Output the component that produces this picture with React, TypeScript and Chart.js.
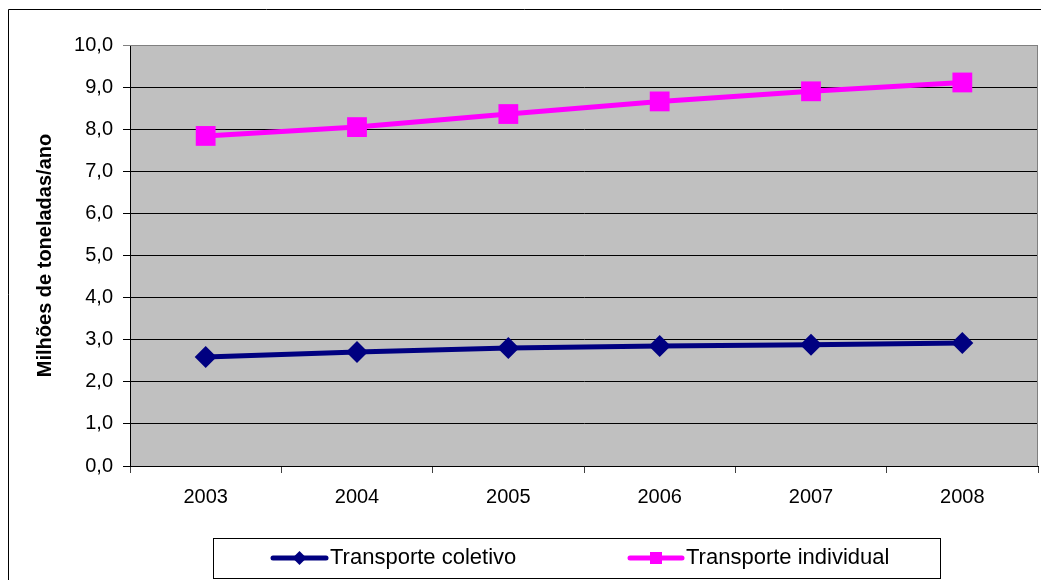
import React, { useEffect, useRef } from "react";
import { Chart, registerables } from "chart.js";

Chart.register(...registerables);

const categories = ["2003", "2004", "2005", "2006", "2007", "2008"];
const coletivo = [2.59, 2.71, 2.8, 2.85, 2.88, 2.92];
const individual = [7.84, 8.05, 8.36, 8.66, 8.9, 9.11];
const seriesNames = ["Transporte coletivo", "Transporte individual"];
const yTitle = "Milhões de toneladas/ano";

const FONT = "'Liberation Sans', Arial, sans-serif";
const NAVY = "#000080";
const PINK = "#FF00FF";

const framePlugin = {
  id: "framePlugin",
  beforeDraw(chart: any) {
    const { ctx, chartArea } = chart;
    ctx.save();
    ctx.fillStyle = "#C0C0C0";
    ctx.fillRect(chartArea.left, chartArea.top, chartArea.right - chartArea.left, chartArea.bottom - chartArea.top);
    ctx.restore();
  },
  beforeDatasetsDraw(chart: any) {
    const { ctx, chartArea } = chart;
    ctx.save();
    ctx.strokeStyle = "#808080";
    ctx.lineWidth = 1;
    ctx.beginPath();
    ctx.moveTo(chartArea.left, chartArea.top + 0.5);
    ctx.lineTo(chartArea.right - 0.5, chartArea.top + 0.5);
    ctx.lineTo(chartArea.right - 0.5, chartArea.bottom);
    ctx.stroke();
    ctx.restore();
  },
  afterDraw(chart: any) {
    const { ctx, width, height } = chart;
    ctx.save();
    // outer frame
    ctx.strokeStyle = "#000";
    ctx.lineWidth = 1;
    ctx.beginPath();
    ctx.moveTo(8.5, height);
    ctx.lineTo(8.5, 9.5);
    ctx.lineTo(width, 9.5);
    ctx.stroke();

    // legend box
    const bx = 213, by = 538, bw = 727, bh = 40;
    ctx.strokeRect(bx + 0.5, by + 0.5, bw, bh);
    const ly = by + 20;
    const items = [
      { x0: 273, x1: 326, color: NAVY, shape: "diamond", tx: 330, label: seriesNames[0] },
      { x0: 630, x1: 682, color: PINK, shape: "square", tx: 686, label: seriesNames[1] },
    ];
    items.forEach((it) => {
      ctx.strokeStyle = it.color;
      ctx.lineWidth = 5;
      ctx.lineCap = "round";
      ctx.beginPath();
      ctx.moveTo(it.x0, ly);
      ctx.lineTo(it.x1, ly);
      ctx.stroke();
      ctx.fillStyle = it.color;
      const cx = (it.x0 + it.x1) / 2;
      ctx.beginPath();
      if (it.shape === "diamond") {
        ctx.moveTo(cx - 7, ly);
        ctx.lineTo(cx, ly - 7);
        ctx.lineTo(cx + 7, ly);
        ctx.lineTo(cx, ly + 7);
        ctx.closePath();
      } else {
        ctx.rect(cx - 6, ly - 6, 12, 12);
      }
      ctx.fill();
      ctx.fillStyle = "#000";
      ctx.font = `22px ${FONT}`;
      ctx.textBaseline = "middle";
      ctx.textAlign = "left";
      ctx.fillText(it.label, it.tx, ly);
    });
    ctx.restore();
  },
};

export default function App() {
  const ref = useRef<HTMLCanvasElement>(null);
  useEffect(() => {
    if (!ref.current) return;
    const chart = new Chart(ref.current, {
      type: "line",
      data: {
        labels: categories,
        datasets: [
          {
            label: seriesNames[0],
            data: coletivo,
            borderColor: NAVY,
            backgroundColor: NAVY,
            borderWidth: 5,
            pointStyle: "rectRot",
            pointRadius: 11,
            pointHoverRadius: 11,
            pointBorderWidth: 0,
            tension: 0,
          },
          {
            label: seriesNames[1],
            data: individual,
            borderColor: PINK,
            backgroundColor: PINK,
            borderWidth: 5,
            pointStyle: "rect",
            pointRadius: 14,
            pointHoverRadius: 14,
            pointBorderWidth: 0,
            tension: 0,
          },
        ],
      },
      options: {
        responsive: false,
        animation: false,
        layout: { autoPadding: false, padding: { top: 45, right: 3, left: 8, bottom: 64 } },
        plugins: { legend: { display: false }, tooltip: { enabled: false } },
        scales: {
          x: {
            type: "category",
            offset: true,
            grid: { offset: true, drawOnChartArea: false, drawTicks: true, tickLength: 7, color: "#404040" },
            border: { color: "#000", width: 1 },
            ticks: { color: "#000", font: { family: FONT, size: 20 }, padding: 12, maxRotation: 0 },
            afterFit: (s: any) => { s.height = 50; },
          },
          y: {
            min: 0,
            max: 10,
            ticks: {
              stepSize: 1,
              color: "#000",
              font: { family: FONT, size: 20 },
              padding: 10,
              callback: (v: any) => Number(v).toFixed(1).replace(".", ","),
            },
            grid: {
              color: (c: any) => (c.tick && c.tick.value === 10 ? "#808080" : "#000"),
              tickLength: 7,
              lineWidth: 1,
            },
            border: { color: "#000", width: 1 },
            title: {
              display: true,
              text: yTitle,
              color: "#000",
              font: { family: FONT, size: 20, weight: "bold" },
              padding: { top: 25, bottom: 0 },
            },
            afterFit: (s: any) => { s.width = 122; },
          },
        },
      },
      plugins: [framePlugin],
    });
    return () => chart.destroy();
  }, []);
  return (
    <div style={{ position: "fixed", left: 0, top: 0, width: 1041, height: 580, overflow: "hidden", background: "#fff" }}>
      <canvas ref={ref} width={1041} height={580} style={{ display: "block" }} />
    </div>
  );
}
